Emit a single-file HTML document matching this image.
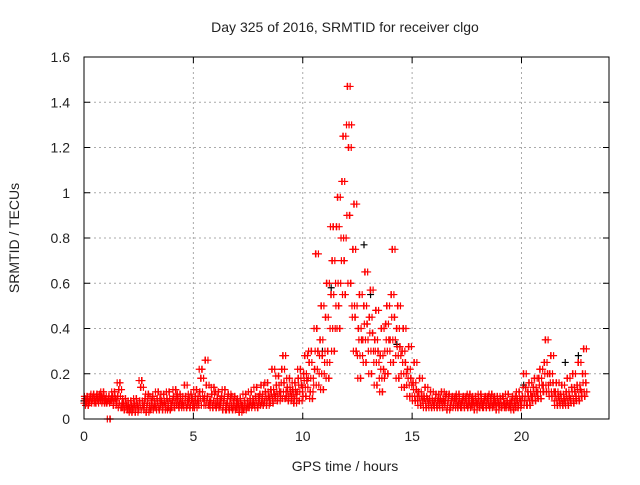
<!DOCTYPE html>
<html><head><meta charset="utf-8"><style>
body{margin:0;background:#fff}
svg text{font-family:"Liberation Sans",sans-serif;font-size:14px;fill:#222}
</style></head><body>
<svg id="chart" width="640" height="480">
<text x="345" y="32" text-anchor="middle">Day 325 of 2016, SRMTID for receiver clgo</text>
<text x="345" y="471" text-anchor="middle">GPS time / hours</text>
<text transform="translate(19,238) rotate(-90)" text-anchor="middle">SRMTID / TECUs</text>
<g id="grid"></g>
<g id="marks"></g>
<rect x="84" y="57" width="525" height="362" fill="none" stroke="#000" stroke-width="1"/>
<g id="ticks"></g>
</svg>
<script>
const xTicks=[0,5,10,15,20];
const yTicks=[0,0.2,0.4,0.6,0.8,1,1.2,1.4,1.6];
const yTickLabels=["0","0.2","0.4","0.6","0.8","1","1.2","1.4","1.6"];
const binStart=0, binWidth=0.25;
const redBins=[
"0.07 0.09 0.08 0.10 0.06","0.08 0.10 0.07 0.09 0.11","0.09 0.07 0.11 0.08 0.10","0.08 0.10 0.09 0.12 0.07",
"0.09 0.07 0.08 0.10 0.00","0.08 0.10 0.06 0.12 0.09","0.07 0.10 0.13 0.16 0.05","0.05 0.07 0.04 0.09 0.06",
"0.04 0.06 0.05 0.08 0.03","0.05 0.07 0.03 0.09 0.06","0.04 0.08 0.14 0.17 0.06","0.05 0.09 0.03 0.07 0.11",
"0.06 0.04 0.08 0.10 0.05","0.07 0.05 0.09 0.12 0.04","0.06 0.08 0.04 0.11 0.07","0.05 0.09 0.07 0.12 0.04",
"0.06 0.08 0.10 0.05 0.13","0.07 0.09 0.05 0.11 0.06","0.08 0.06 0.15 0.10 0.05","0.06 0.08 0.05 0.11 0.09",
"0.07 0.05 0.10 0.13 0.08","0.06 0.12 0.18 0.22 0.09","0.08 0.26 0.15 0.10 0.06","0.06 0.08 0.11 0.05 0.14",
"0.07 0.05 0.09 0.12 0.06","0.06 0.10 0.04 0.08 0.13","0.05 0.07 0.11 0.04 0.09","0.06 0.04 0.08 0.10 0.05",
"0.05 0.07 0.03 0.09 0.06","0.06 0.04 0.08 0.11 0.05","0.07 0.05 0.09 0.12 0.06","0.08 0.06 0.10 0.14 0.05",
"0.07 0.11 0.15 0.09 0.06","0.08 0.12 0.06 0.16 0.10","0.09 0.13 0.22 0.07 0.11","0.10 0.15 0.08 0.19 0.12",
"0.12 0.22 0.28 0.16 0.09","0.10 0.14 0.08 0.18 0.12","0.09 0.13 0.07 0.16 0.11","0.12 0.18 0.08 0.22 0.15",
"0.14 0.20 0.28 0.10 0.17","0.18 0.25 0.12 0.30 0.09","0.15 0.22 0.73 0.40 0.30","0.20 0.35 0.50 0.28 0.13",
"0.25 0.45 0.60 0.30 0.18","0.40 0.55 0.70 0.85 0.30","0.60 0.85 0.98 0.50 0.40","0.80 1.05 1.25 0.70 0.55",
"1.30 1.47 1.20 0.90 0.60","0.50 0.75 0.95 0.45 0.30","0.28 0.40 0.55 0.18 0.35","0.35 0.50 0.65 0.25 0.42",
"0.30 0.45 0.57 0.20 0.38","0.25 0.35 0.48 0.15 0.30","0.18 0.28 0.40 0.12 0.22","0.30 0.42 0.50 0.20 0.35",
"0.35 0.55 0.75 0.25 0.45","0.28 0.40 0.50 0.18 0.32","0.20 0.30 0.40 0.14 0.25","0.15 0.22 0.32 0.10 0.18",
"0.10 0.16 0.25 0.08 0.13","0.08 0.12 0.18 0.06 0.10","0.07 0.10 0.14 0.05 0.09","0.06 0.09 0.12 0.05 0.08",
"0.06 0.08 0.11 0.05 0.09","0.07 0.09 0.12 0.05 0.08","0.06 0.10 0.04 0.08 0.11","0.05 0.08 0.10 0.06 0.09",
"0.07 0.09 0.05 0.11 0.06","0.06 0.08 0.10 0.05 0.09","0.07 0.05 0.09 0.11 0.06","0.06 0.08 0.04 0.10 0.07",
"0.07 0.09 0.05 0.11 0.06","0.06 0.08 0.10 0.05 0.09","0.07 0.05 0.09 0.11 0.06","0.06 0.08 0.04 0.10 0.07",
"0.06 0.09 0.05 0.10 0.07","0.07 0.05 0.08 0.11 0.06","0.05 0.08 0.10 0.04 0.07","0.06 0.09 0.05 0.12 0.08",
"0.06 0.10 0.20 0.08 0.14","0.08 0.12 0.16 0.06 0.10","0.10 0.14 0.18 0.08 0.12","0.12 0.18 0.22 0.09 0.15",
"0.15 0.25 0.35 0.12 0.20","0.12 0.20 0.28 0.10 0.16","0.08 0.12 0.16 0.06 0.10","0.07 0.11 0.15 0.06 0.09",
"0.08 0.12 0.18 0.06 0.10","0.09 0.14 0.20 0.07 0.12","0.10 0.15 0.25 0.08 0.13","0.12 0.20 0.31 0.10 0.16"
];
const blackTimes=[0.0,10.9,11.3,12.8,13.1,14.3,20.1,22.0,22.6];
const blackValues=[0.08,0.30,0.58,0.77,0.55,0.33,0.15,0.25,0.28];

const X0=84,X1=609,Y0=419,Y1=57,XMAX=24,YMAX=1.6;
const sx=t=>X0+t/XMAX*(X1-X0);
const sy=v=>Y0-v/YMAX*(Y0-Y1);
const NS="http://www.w3.org/2000/svg";
const grid=document.getElementById('grid'),ticks=document.getElementById('ticks'),marks=document.getElementById('marks');
function mk(tag,attrs,parent){const e=document.createElementNS(NS,tag);for(const k in attrs)e.setAttribute(k,attrs[k]);parent.appendChild(e);return e;}
xTicks.forEach(t=>{
  const x=sx(t);
  if(t>0){const g=mk('line',{x1:x,x2:x,y1:Y0,y2:Y1,stroke:'#aaa','stroke-dasharray':'2,3'},grid);
  
  }
  mk('line',{x1:x,x2:x,y1:Y0,y2:Y0-6,stroke:'#000'},ticks);
  mk('line',{x1:x,x2:x,y1:Y1,y2:Y1+6,stroke:'#000'},ticks);
  const l=mk('text',{x:x,y:Y0+22,'text-anchor':'middle'},ticks);l.textContent=t;
  
  
});
yTicks.forEach((v,i)=>{
  const y=sy(v);
  if(v>0&&v<YMAX){const g=mk('line',{x1:X0,x2:X1,y1:y,y2:y,stroke:'#aaa','stroke-dasharray':'2,3'},grid);
  
  }
  mk('line',{x1:X0,x2:X0+6,y1:y,y2:y,stroke:'#000'},ticks);
  mk('line',{x1:X1,x2:X1-6,y1:y,y2:y,stroke:'#000'},ticks);
  const l=mk('text',{x:X0-14,y:y+5,'text-anchor':'end'},ticks);l.textContent=yTickLabels[i];
  
  
});
function plus(t,v,color){
  const x=sx(t),y=sy(v);
  const p=mk('path',{d:`M${x-3.5},${y}H${x+3.5}M${x},${y-3.5}V${y+3.5}`,stroke:color,'stroke-width':1.2},marks);
  
  
}
blackTimes.forEach((t,i)=>plus(t,blackValues[i],'#000'));
redBins.forEach((s,b)=>{
  const vals=s.split(' ').map(Number);
  const n=vals.length;
  vals.forEach((v,j)=>{
    for(let k=0;k<3;k++){
      plus(binStart+b*binWidth+((j+k*2)%n+k/3)*binWidth/n,v,'#f00');
    }
  });
});
</script>
</body></html>
